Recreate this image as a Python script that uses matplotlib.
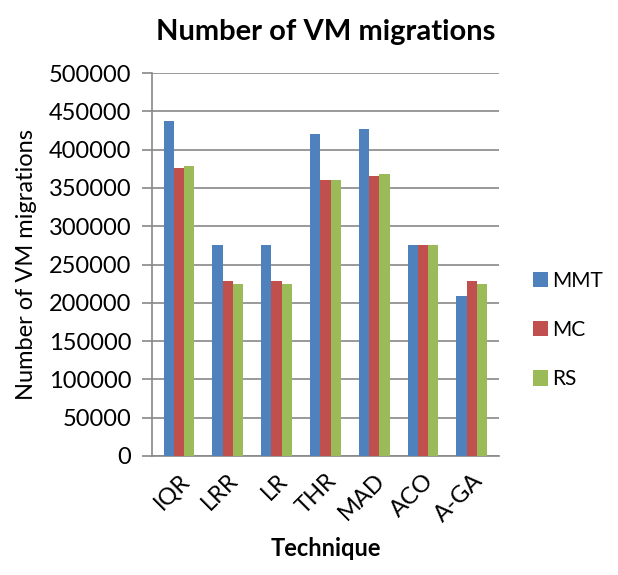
import numpy as np
import matplotlib.pyplot as plt

plt.rcParams['font.family'] = ['Lato', 'DejaVu Sans']

techniques = ['IQR', 'LRR', 'LR', 'THR', 'MAD', 'ACO', 'A-GA']
mmt = [437000, 275000, 275000, 421000, 427000, 275000, 209000]
mc = [376000, 228000, 228000, 360000, 366000, 275000, 228000]
rs = [379000, 225000, 225000, 360000, 368000, 275000, 225000]
series = ['MMT', 'MC', 'RS']
colors = ['#4F81BD', '#C0504D', '#9BBB59']

fig = plt.figure(figsize=(6.18, 5.75), dpi=100)
ax = fig.add_axes([0.246, 0.207, 0.561, 0.666])

x = np.arange(len(techniques))
w = 0.21
for i, (vals, name, c) in enumerate(zip([mmt, mc, rs], series, colors)):
    ax.bar(x + (i - 1) * w, vals, w, color=c, label=name, zorder=3)

ax.set_xlim(-0.55, len(techniques) - 0.45)
ax.set_ylim(0, 500000)
ax.set_yticks(np.arange(0, 500001, 50000))
ax.yaxis.grid(True, color='#888888', linewidth=1.2, zorder=0)
for s in ['top', 'right']:
    ax.spines[s].set_visible(False)
for s in ['left', 'bottom']:
    ax.spines[s].set_color('#888888')
    ax.spines[s].set_linewidth(1.2)
ax.tick_params(axis='y', length=7, color='#888888', width=1.2, labelsize=17, pad=8)
ax.tick_params(axis='x', length=0, labelsize=17, pad=10)
ax.set_xticks(x)
ax.set_xticklabels(techniques, rotation=45, ha='right', rotation_mode='anchor')

ax.set_title('Number of VM migrations', fontsize=21, fontweight='bold', pad=24)
ax.set_ylabel('Number of VM migrations', fontsize=17, labelpad=8)
ax.set_xlabel('Technique', fontsize=17, fontweight='bold', labelpad=8)

fig.legend(loc='center left', bbox_to_anchor=(0.862, 0.426), frameon=False,
           fontsize=15, labelspacing=1.4, handlelength=0.75, handleheight=0.75,
           handletextpad=0.2, borderaxespad=0, borderpad=0)

fig.savefig('out.png', dpi=100)
